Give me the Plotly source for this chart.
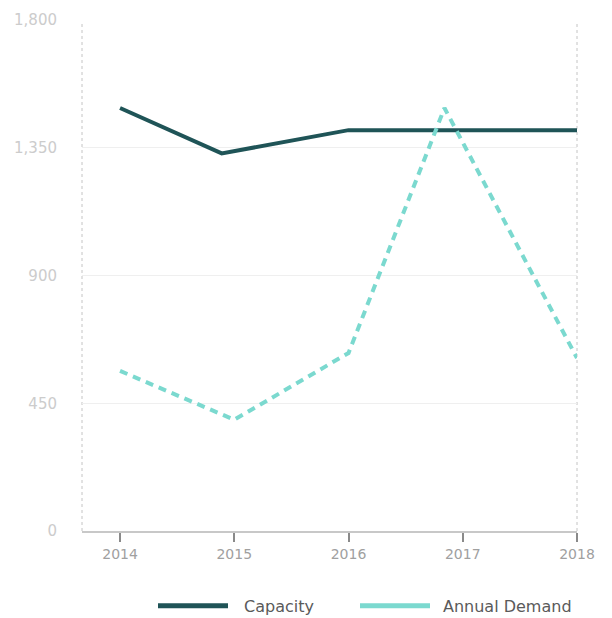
import plotly.graph_objects as go

# Series data (x in fractional years)
capacity_x = [2014.0, 2014.89, 2016.0, 2017.0, 2018.0]
capacity_y = [1490, 1330, 1412, 1412, 1412]
demand_x = [2014.0, 2015.0, 2016.0, 2016.84, 2018.0]
demand_y = [564, 392, 627, 1490, 609]

year_ticks = [2014, 2015, 2016, 2017, 2018]
year_labels = ["2014", "2015", "2016", "2017", "2018"]
value_ticks = [0, 450, 900, 1350, 1800]

series_names = ["Capacity", "Annual Demand"]
series_colors = ["#1f5457", "#7bd9cf"]

FONT = "'DejaVu Sans', Lato, sans-serif"

fig = go.Figure()
fig.add_trace(go.Scatter(
    x=capacity_x, y=capacity_y, mode="lines", name=series_names[0],
    line=dict(color=series_colors[0], width=4), showlegend=False,
))
fig.add_trace(go.Scatter(
    x=demand_x, y=demand_y, mode="lines", name=series_names[1],
    line=dict(color=series_colors[1], width=4, dash="8px,6px"), showlegend=False,
))

# dotted frame lines at the left and right edges of the plot area
for xp in (0, 1):
    fig.add_shape(type="line", xref="paper", yref="paper", x0=xp, x1=xp, y0=0, y1=0.995,
                  line=dict(color="#c4c4c4", width=1, dash="dot"), layer="below")

# legend drawn as line samples + labels below the plot
PLOT_TOP, PLOT_H = 11, 520
def py(v):
    return (PLOT_TOP + PLOT_H - v) / PLOT_H

legend_items = [(158, 228, 242), (360, 430, 441)]
for (x0, x1, xt), name, color in zip(legend_items, series_names, series_colors):
    fig.add_shape(type="line", xref="paper", yref="paper",
                  x0=(x0 - 82) / 495, x1=(x1 - 82) / 495, y0=py(607), y1=py(607),
                  line=dict(color=color, width=5))
    fig.add_annotation(xref="paper", yref="paper", x=(xt - 82) / 495, y=py(608),
                       text=name, showarrow=False, xanchor="left", yanchor="middle",
                       font=dict(family=FONT, size=16, color="#5a5a5a"))

fig.update_layout(
    width=612, height=618,
    margin=dict(l=82, r=35, t=PLOT_TOP, b=618 - PLOT_TOP - PLOT_H),
    paper_bgcolor="white", plot_bgcolor="white",
    font=dict(family=FONT),
    xaxis=dict(
        range=[2013.667, 2018.0], tickvals=year_ticks, ticktext=year_labels,
        showgrid=False, zeroline=False,
        showline=True, linecolor="#c8c8c8", linewidth=1.5,
        ticks="outside", ticklen=9, tickwidth=2, tickcolor="#8a8a8a",
        tickfont=dict(size=14, color="#a0a0a0"),
    ),
    yaxis=dict(
        range=[0, 1800], tickvals=value_ticks, tickformat=",",
        showgrid=True, gridcolor="#efefef", gridwidth=1,
        zeroline=False, showline=False, ticks="",
        ticklabelstandoff=24,
        tickfont=dict(size=15, color="#cccccc"),
    ),
)

fig.write_html("out.html")
